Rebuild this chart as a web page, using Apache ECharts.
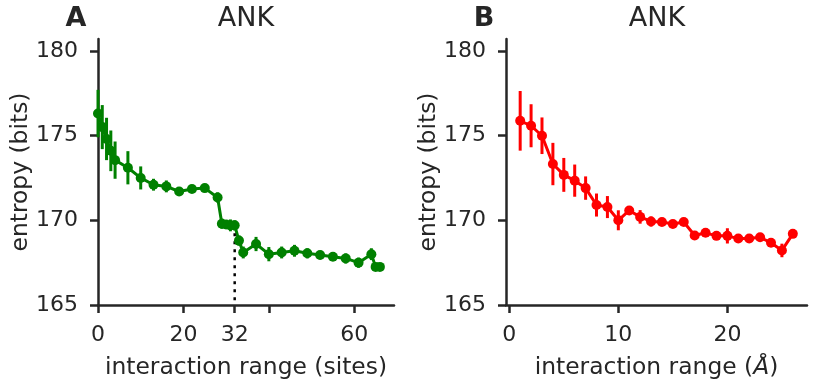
<!DOCTYPE html>
<html>
<head>
<meta charset="utf-8">
<script src="https://cdn.jsdelivr.net/npm/echarts@6/dist/echarts.min.js"></script>
<style>
  html, body { margin: 0; padding: 0; background: #fff; }
  #chart { width: 829px; height: 384px; }
</style>
</head>
<body>
<div id="chart"></div>
<script>
// Panel A: entropy vs interaction range in sites
const sitesX = [0, 1, 2, 3, 4, 7, 10, 13, 16, 19, 22, 25, 28, 29, 30, 31, 32, 33, 34, 37, 40, 43, 46, 49, 52, 55, 58, 61, 64, 65, 66];
const sitesMean = [176.3, 175.5, 174.8, 174.1, 173.55, 173.1, 172.5, 172.1, 172.0, 171.7, 171.85, 171.9, 171.35, 169.8, 169.75, 169.7, 169.7, 168.8, 168.1, 168.6, 168.0, 168.1, 168.2, 168.05, 167.95, 167.85, 167.75, 167.5, 168.0, 167.25, 167.25];
const sitesErr = [1.4, 1.3, 1.25, 1.2, 1.1, 0.98, 0.68, 0.35, 0.35, 0.2, 0.2, 0.2, 0.3, 0.3, 0.2, 0.35, 0.3, 0.3, 0.35, 0.42, 0.42, 0.35, 0.35, 0.3, 0.25, 0.25, 0.3, 0.3, 0.35, 0.2, 0.15];
const cutoffSites = 32;

// Panel B: entropy vs interaction range in Angstrom
const angX = [1, 2, 3, 4, 5, 6, 7, 8, 9, 10, 11, 12, 13, 14, 15, 16, 17, 18, 19, 20, 21, 22, 23, 24, 25, 26];
const angMean = [175.87, 175.58, 174.99, 173.32, 172.68, 172.34, 171.9, 170.9, 170.78, 170.0, 170.58, 170.2, 169.93, 169.9, 169.78, 169.9, 169.1, 169.26, 169.08, 169.08, 168.92, 168.92, 169.0, 168.67, 168.22, 169.2];
const angErr = [1.76, 1.27, 1.08, 1.25, 1.0, 0.95, 0.69, 0.68, 0.65, 0.59, 0.25, 0.4, 0.3, 0.2, 0.2, 0.2, 0.25, 0.2, 0.2, 0.45, 0.2, 0.2, 0.2, 0.25, 0.4, 0.2];

const yTicks = [165, 170, 175, 180];
const sitesTicks = [0, 20, 32, 40, 60];
const sitesLabels = [0, 20, 32, 60];
const angTicks = [0, 10, 20];

const FONT = "DejaVu Sans";
const INK = "#262626";

const chart = echarts.init(document.getElementById("chart"));

function errData(xs, ys, es) {
  return xs.map((x, i) => [x, ys[i] - es[i], ys[i] + es[i]]);
}

function errSeries(idx, data, color) {
  return {
    type: "custom",
    xAxisIndex: idx,
    yAxisIndex: idx,
    data,
    encode: { x: 0, y: [1, 2] },
    clip: false,
    renderItem: (params, api) => {
      const lo = api.coord([api.value(0), api.value(1)]);
      const hi = api.coord([api.value(0), api.value(2)]);
      return {
        type: "line",
        shape: { x1: lo[0], y1: lo[1], x2: hi[0], y2: hi[1] },
        style: { stroke: color, lineWidth: 3 },
      };
    },
  };
}

function xAxis(idx, min, max, ticks, labels, name) {
  return {
    type: "value",
    gridIndex: idx,
    min,
    max,
    name,
    nameLocation: "middle",
    nameGap: 51,
    nameTextStyle: {
      fontFamily: FONT, fontSize: 23.4, color: INK,
      rich: { i: { fontFamily: FONT, fontSize: 23.4, color: INK, fontStyle: "italic" } },
    },
    splitLine: { show: false },
    axisLine: { onZero: false, lineStyle: { color: INK, width: 2.5 } },
    axisTick: { customValues: ticks, length: 8, lineStyle: { color: INK, width: 2.5 } },
    axisLabel: { customValues: labels, margin: 19, fontFamily: FONT, fontSize: 22, color: INK },
  };
}

function yAxis(idx) {
  return {
    type: "value",
    gridIndex: idx,
    min: 165,
    max: 180.7,
    name: "entropy (bits)",
    nameLocation: "middle",
    nameGap: 66,
    nameTextStyle: { fontFamily: FONT, fontSize: 23.4, color: INK },
    splitLine: { show: false },
    axisLine: { onZero: false, lineStyle: { color: INK, width: 2.5 } },
    axisTick: { customValues: yTicks, length: 8, lineStyle: { color: INK, width: 2.5 } },
    axisLabel: { customValues: yTicks, margin: 20, fontFamily: FONT, fontSize: 22, color: INK },
  };
}

const option = {
  backgroundColor: "#fff",
  animation: false,
  grid: [
    { left: 98, top: 39, width: 296, height: 267 },
    { left: 506, top: 39, width: 301, height: 267 },
  ],
  xAxis: [
    xAxis(0, 0, 69.3, sitesTicks, sitesLabels, "interaction range (sites)"),
    xAxis(1, -0.3, 27.3, angTicks, angTicks, "interaction range ({i|Å})"),
  ],
  yAxis: [yAxis(0), yAxis(1)],
  graphic: [
    { type: "text", x: 76, y: 19, style: { text: "A", fontFamily: FONT, fontWeight: "bold", fontSize: 27, fill: INK, align: "center", verticalAlign: "middle" } },
    { type: "text", x: 246, y: 19, style: { text: "ANK", fontFamily: FONT, fontSize: 27, fill: INK, align: "center", verticalAlign: "middle" } },
    { type: "text", x: 484, y: 19, style: { text: "B", fontFamily: FONT, fontWeight: "bold", fontSize: 27, fill: INK, align: "center", verticalAlign: "middle" } },
    { type: "text", x: 657, y: 19, style: { text: "ANK", fontFamily: FONT, fontSize: 27, fill: INK, align: "center", verticalAlign: "middle" } },
  ],
  series: [
    errSeries(0, errData(sitesX, sitesMean, sitesErr), "#008000"),
    {
      type: "line",
      xAxisIndex: 0,
      yAxisIndex: 0,
      data: sitesX.map((x, i) => [x, sitesMean[i]]),
      symbol: "circle",
      symbolSize: 10,
      itemStyle: { color: "#008000" },
      lineStyle: { color: "#008000", width: 3 },
      clip: false,
    },
    {
      type: "line",
      xAxisIndex: 0,
      yAxisIndex: 0,
      data: [[cutoffSites, sitesMean[sitesX.indexOf(cutoffSites)]], [cutoffSites, 165]],
      symbol: "none",
      lineStyle: { color: "#000", width: 2.5, type: [3, 5] },
      z: 3,
    },
    errSeries(1, errData(angX, angMean, angErr), "#ff0000"),
    {
      type: "line",
      xAxisIndex: 1,
      yAxisIndex: 1,
      data: angX.map((x, i) => [x, angMean[i]]),
      symbol: "circle",
      symbolSize: 10,
      itemStyle: { color: "#ff0000" },
      lineStyle: { color: "#ff0000", width: 3 },
      clip: false,
    },
  ],
};

chart.setOption(option);
window.addEventListener("resize", () => chart.resize());
</script>
</body>
</html>
